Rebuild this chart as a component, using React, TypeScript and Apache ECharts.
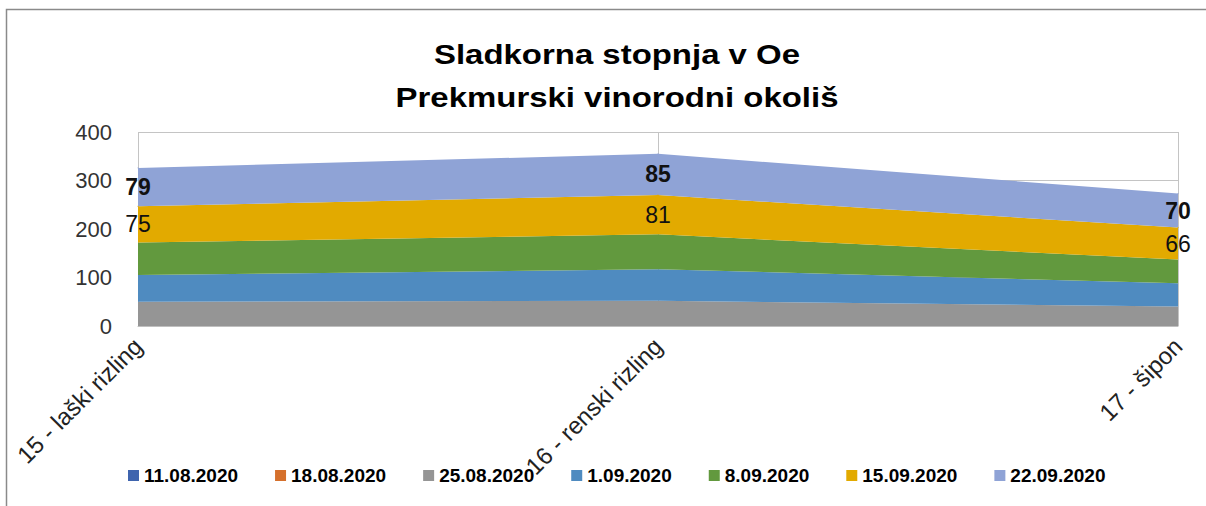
import React, { useEffect, useRef } from "react";
import * as echarts from "echarts";

const categories = ["15 - laški rizling", "16 - renski rizling", "17 - šipon"];
const seriesNames = ["11.08.2020", "18.08.2020", "25.08.2020", "1.09.2020", "8.09.2020", "15.09.2020", "22.09.2020"];
const v1108: (number | null)[] = [null, null, null];
const v1808: (number | null)[] = [null, null, null];
const v2508 = [50, 52, 40];
const v0109 = [55, 65, 48];
const v0809 = [67, 72, 49];
const v1509 = [75, 81, 66];
const v2209 = [79, 85, 70];
const yTicks = [0, 100, 200, 300, 400];
const titleLines = ["Sladkorna stopnja v Oe", "Prekmurski vinorodni okoliš"];

const colors = ["#3f64ae", "#d5702c", "#959595", "#4f8bc0", "#62993e", "#e2aa00", "#8fa3d6"];
const FONT = "'Liberation Sans', Arial, sans-serif";

const GRID = { left: 138, right: 28, top: 132, bottom: 180 };
const W = 1206;
const H = 506;

export default function App() {
  const ref = useRef<HTMLDivElement>(null);
  useEffect(() => {
    if (!ref.current) return;
    const chart = echarts.init(ref.current, undefined, { renderer: "svg" });
    const yMax = yTicks[yTicks.length - 1];
    const pxPerUnit = (H - GRID.top - GRID.bottom) / yMax;
    const allValues = [v1108, v1808, v2508, v0109, v0809, v1509, v2209];

    const series = allValues.map((vals, i) => {
      const labelled = i >= 5;
      return {
        name: seriesNames[i],
        type: "line",
        stack: "total",
        symbol: labelled ? "circle" : "none",
        symbolSize: 1,
        showSymbol: labelled,
        clip: false,
        lineStyle: { width: 0 },
        areaStyle: { color: colors[i], opacity: 1 },
        itemStyle: { color: colors[i], borderWidth: 0 },
        emphasis: { disabled: true },
        data: vals.map((v) =>
          labelled && v != null
            ? {
                value: v,
                label: { offset: [0, (v / 2) * pxPerUnit] },
              }
            : v == null ? "-" : v
        ),
        label: labelled
          ? {
              show: true,
              position: "inside",
              fontFamily: FONT,
              fontSize: 23,
              fontWeight: i === 6 ? "bold" : "normal",
              color: "#111",
            }
          : { show: false },
      };
    });

    chart.setOption({
      animation: false,
      color: colors,
      grid: { ...GRID, containLabel: false },
      graphic: [
        {
          type: "polyline",
          shape: { points: [[6.5, H], [6.5, 9.5], [W, 9.5]] },
          style: { stroke: "#8a8a8a", lineWidth: 1.5, fill: null },
          silent: true,
        },
        ...titleLines.map((t, i) => ({
          type: "text",
          x: 617,
          y: 55 + i * 43,
          scaleX: 1.22,
          style: {
            text: t,
            fontFamily: FONT,
            fontSize: 27,
            fontWeight: "bold",
            fill: "#000",
            textAlign: "center",
            textVerticalAlign: "middle",
          },
        })),
      ],
      legend: {
        data: seriesNames,
        left: 123,
        top: 461,
        itemWidth: 11,
        itemHeight: 11,
        itemGap: 37,
        icon: "rect",
        textStyle: { fontFamily: FONT, fontSize: 19, fontWeight: "bold", color: "#000" },
        selectedMode: false,
      },
      xAxis: {
        type: "category",
        data: categories,
        boundaryGap: false,
        axisLine: { show: true, lineStyle: { color: "#bfbfbf", width: 1 } },
        axisTick: { show: false },
        splitLine: { show: true, lineStyle: { color: "#c4c4c4", width: 1 } },
        axisLabel: {
          interval: 0,
          rotate: 45,
          margin: 16,
          fontFamily: FONT,
          fontSize: 24,
          color: "#222",
        },
      },
      yAxis: {
        type: "value",
        min: yTicks[0],
        max: yMax,
        interval: yTicks[1] - yTicks[0],
        axisLine: { show: false },
        axisTick: { show: false },
        splitLine: { show: true, lineStyle: { color: "#c4c4c4", width: 1 } },
        axisLabel: {
          margin: 26,
          fontFamily: FONT,
          fontSize: 22,
          color: "#333",
        },
      },
      series,
    });
    return () => chart.dispose();
  }, []);

  return (
    <div
      ref={ref}
      style={{ position: "fixed", left: 0, top: 0, width: W, height: H, background: "#fff" }}
    />
  );
}
